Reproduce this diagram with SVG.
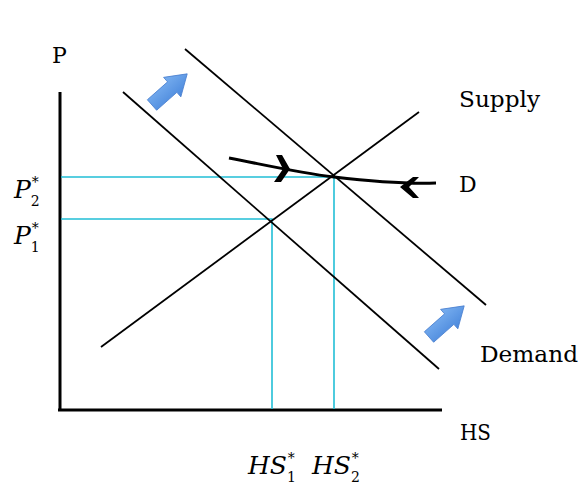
<svg xmlns="http://www.w3.org/2000/svg" width="581" height="488" viewBox="0 0 581 488">
<style>
.ax{stroke:#000;stroke-width:3;fill:none}
.ln{stroke:#000;stroke-width:1.8;fill:none}
.cy{stroke:#22bfd6;stroke-width:1.6;fill:none}
.lbl{font-family:"DejaVu Serif","Liberation Serif",serif;font-size:22px;fill:#000}
.m{font-family:"DejaVu Serif","Liberation Serif",serif;font-style:italic;font-size:25px;fill:#000}
.s{font-style:normal;font-size:14px}
.blue{fill:url(#bg);stroke:#4a7fcf;stroke-width:0.8}
</style>
<defs>
<linearGradient id="bg" x1="0" y1="0" x2="0" y2="1">
<stop offset="0" stop-color="#7ab0f0"/>
<stop offset="1" stop-color="#4a88dc"/>
</linearGradient>
<path id="barrow" d="M0,-7 L27,-7 L27,-13 L47,0 L27,13 L27,7 L0,7 Z"/>
</defs>
<rect width="581" height="488" fill="#fff"/>
<g id="axes">
<line class="ax" x1="60" y1="92" x2="60" y2="411"/>
<line class="ax" x1="58" y1="410" x2="442" y2="410"/>
</g>
<g id="connectors">
<polyline class="cy" points="61,177 334,177 334,409"/>
<polyline class="cy" points="61,219 272,219 272,409"/>
<line id="demand1" class="ln" x1="123" y1="92" x2="439" y2="369"/>
<line id="demand2" class="ln" x1="185" y1="49" x2="486" y2="305"/>
<line id="supply" class="ln" x1="101" y1="347" x2="419" y2="112"/>
<path id="dcurve" d="M229,158 C270,166 300,173 334,177 S410,184 436,183" stroke="#000" stroke-width="3" fill="none"/>
<path d="M276,155 L282,155 L290,169 L281,182 L274,182 L283,169 Z" fill="#000"/>
<path d="M413,177 L419,177 L409,187 L419,198 L413,198 L400,187 Z" fill="#000"/>
</g>
<g id="arrows">
<use href="#barrow" class="blue" transform="translate(152,105) rotate(-41.5)"/>
<use href="#barrow" class="blue" transform="translate(429,337) rotate(-41.5)"/>
</g>
<g id="labels">
<text class="lbl" x="52" y="63" font-size="21">P</text>
<text class="lbl" x="459" y="107" textLength="81" lengthAdjust="spacingAndGlyphs">Supply</text>
<text class="lbl" x="459" y="192">D</text>
<text class="lbl" x="480" y="362" textLength="98" lengthAdjust="spacingAndGlyphs">Demand</text>
<text class="lbl" x="460" y="440" textLength="31" lengthAdjust="spacingAndGlyphs">HS</text>
</g>
<g id="p2">
<text class="m" x="14" y="198">P<tspan class="s" dy="8">2</tspan><tspan class="s" dx="-8" dy="-19">*</tspan></text>
</g>
<g id="p1">
<text class="m" x="14" y="244">P<tspan class="s" dy="8">1</tspan><tspan class="s" dx="-8" dy="-19">*</tspan></text>
</g>
<g id="hs1">
<text class="m" x="248" y="474">HS<tspan class="s" dy="8">1</tspan><tspan class="s" dx="-8" dy="-19">*</tspan></text>
</g>
<g id="hs2">
<text class="m" x="312" y="474">HS<tspan class="s" dy="8">2</tspan><tspan class="s" dx="-8" dy="-19">*</tspan></text>
</g>
</svg>
